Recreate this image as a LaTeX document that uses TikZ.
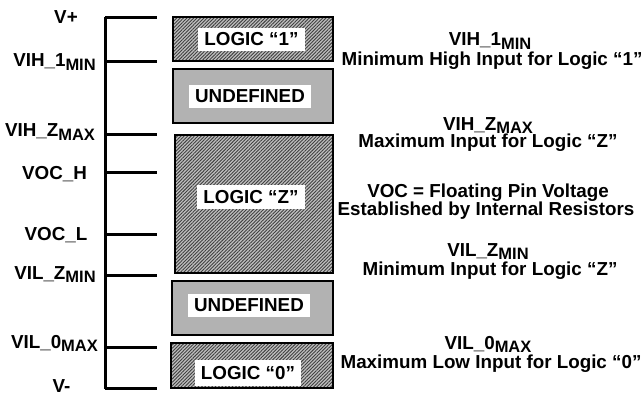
\documentclass[tikz,border=0pt]{standalone}
\usepackage{fontspec}
\setmainfont{Liberation Sans}
\usetikzlibrary{patterns.meta}
\newcommand{\subt}[1]{\raisebox{-3.3pt}{\fontsize{16.5}{16.5}\selectfont #1}}
\tikzset{
  every node/.style={font=\fontsize{18.8}{20}\selectfont\bfseries, inner sep=0pt},
  axis/.style={line width=3pt},
  tick/.style={line width=3pt},
  hatchbox/.style={draw, line width=2.6pt, rectangle,
    preaction={fill=black!25},
    pattern={Lines[angle=45,distance=2.4pt,line width=0.9pt]}, pattern color=black!75},
  undefbox/.style={draw, line width=2.6pt, rectangle, fill=black!30},
  boxlabel/.style={fill=white, inner xsep=6pt, inner ysep=5pt},
  lvl/.style={anchor=base},
  desc/.style={anchor=base},
}
\begin{document}
\begin{tikzpicture}[x=1pt,y=-1pt]
\useasboundingbox (0,0) rectangle (644,395);
% axis
\coordinate (top) at (105,17);
\coordinate (bot) at (105,389);
\draw[axis] (top) -- (bot);
\foreach \n/\y in {vp/18,vih1/62,vihz/135,voch/173,vocl/234,vilz/275,vil0/347,vm/388}{
  \coordinate (a\n) at (105,\y);
  \coordinate (t\n) at (157,\y);
  \draw[tick] (a\n) -- (t\n);
}
% level labels
\node[lvl] (lvp) at (66,23.5) {V+};
\node[lvl] (lvih1) at (54.5,67) {VIH\_1\subt{MIN}};
\node[lvl] (lvihz) at (50,137) {VIH\_Z\subt{MAX}};
\node[lvl] (lvoch) at (54.5,180) {VOC\_H};
\node[lvl] (lvocl) at (56,240) {VOC\_L};
\node[lvl] (lvilz) at (55,279.5) {VIL\_Z\subt{MIN}};
\node[lvl] (lvil0) at (54.5,348) {VIL\_0\subt{MAX}};
\node[lvl] (lvm) at (61.5,392) {V-};
% boxes
\node[hatchbox, minimum width=160pt, minimum height=44pt] (b1) at (253,39) {};
\node[undefbox, minimum width=160pt, minimum height=54pt] (u1) at (253,96) {};
\node[hatchbox, minimum width=158pt, minimum height=138pt] (bz) at (254,204) {};
\node[undefbox, minimum width=161pt, minimum height=54pt] (u2) at (252.5,308) {};
\node[hatchbox, minimum width=162pt, minimum height=45pt] (b0) at (252,365.5) {};
% box labels
\node[boxlabel] (l1) at (251.5,39.5) {LOGIC “1”};
\node[boxlabel] (lu1) at (250,96.5) {UNDEFINED};
\node[boxlabel] (lz) at (251,197) {LOGIC “Z”};
\node[boxlabel] (lu2) at (249,305.5) {UNDEFINED};
\node[boxlabel, inner ysep=6.5pt] (l0) at (248,373) {LOGIC “0”};
% descriptions
\node[desc] (d1a) at (490,46) {VIH\_1\subt{MIN}};
\node[desc] (d1b) at (492,65.5) {Minimum High Input for Logic “1”};
\node[desc] (d2a) at (488,130.5) {VIH\_Z\subt{MAX}};
\node[desc] (d2b) at (488,148) {Maximum Input for Logic “Z”};
\node[desc] (d3a) at (488,197) {VOC = Floating Pin Voltage};
\node[desc] (d3b) at (486,215) {Established by Internal Resistors};
\node[desc] (d4a) at (488,256) {VIL\_Z\subt{MIN}};
\node[desc] (d4b) at (490,275.5) {Minimum Input for Logic “Z”};
\node[desc] (d5a) at (488,349) {VIL\_0\subt{MAX}};
\node[desc] (d5b) at (491,368.5) {Maximum Low Input for Logic “0”};
\end{tikzpicture}
\end{document}
